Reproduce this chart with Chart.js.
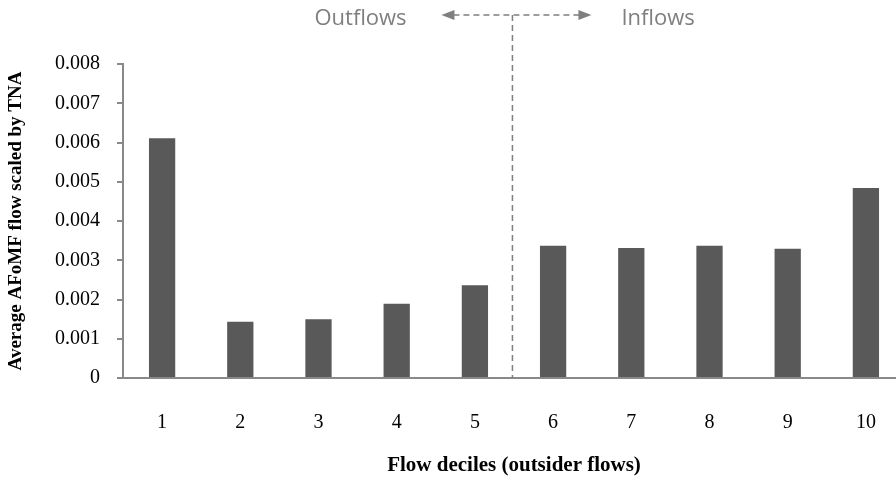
<!DOCTYPE html>
<html>
<head>
<meta charset="utf-8">
<script src="https://cdn.jsdelivr.net/npm/chart.js@4/dist/chart.umd.min.js"></script>
<style>
  html, body { margin: 0; padding: 0; background: #fff; overflow: hidden; }
  #chart { display: block; }
</style>
</head>
<body>
<!-- plot area runs a little past the right edge of the window, as in the original -->
<canvas id="chart" width="905" height="480"></canvas>
<script>
// --- data ---
const deciles = ['1', '2', '3', '4', '5', '6', '7', '8', '9', '10'];
const afomfFlow = [0.00611, 0.00143, 0.00150, 0.00189, 0.00236, 0.00337, 0.00331, 0.00337, 0.00329, 0.00484];
const yTicks = [0, 0.001, 0.002, 0.003, 0.004, 0.005, 0.006, 0.007, 0.008];
const sideLabels = ['Outflows', 'Inflows'];
const DIVIDER_AT = 4.48; // between decile 5 and 6, in category units

const SERIF = '"Liberation Serif", "Times New Roman", serif';
const AXIS_GREY = '#898989';
const NOTE_GREY = '#7f7f7f';

// dashed divider + double arrow with Outflows / Inflows
const flowDivider = {
    id: 'flowDivider',
    afterDraw(chart) {
        const { ctx, chartArea, scales } = chart;
        const x = scales.x.getPixelForValue(DIVIDER_AT);
        const arrowY = 15;
        const leftTip = x - 71, rightTip = x + 79;

        ctx.save();
        ctx.strokeStyle = NOTE_GREY;
        ctx.fillStyle = NOTE_GREY;
        ctx.lineWidth = 1.5;
        ctx.setLineDash([6, 4]);

        ctx.beginPath();
        ctx.moveTo(x, arrowY);
        ctx.lineTo(x, chartArea.bottom);
        ctx.stroke();

        ctx.beginPath();
        ctx.moveTo(leftTip + 12, arrowY);
        ctx.lineTo(rightTip - 12, arrowY);
        ctx.stroke();
        ctx.setLineDash([]);

        // arrow heads
        ctx.beginPath();
        ctx.moveTo(leftTip, arrowY);
        ctx.lineTo(leftTip + 13, arrowY - 5);
        ctx.lineTo(leftTip + 13, arrowY + 5);
        ctx.closePath();
        ctx.fill();
        ctx.beginPath();
        ctx.moveTo(rightTip, arrowY);
        ctx.lineTo(rightTip - 13, arrowY - 5);
        ctx.lineTo(rightTip - 13, arrowY + 5);
        ctx.closePath();
        ctx.fill();

        ctx.font = '22px "Open Sans", sans-serif';
        ctx.textBaseline = 'middle';
        ctx.textAlign = 'left';
        ctx.fillText(sideLabels[0], x - 198, 19);
        ctx.fillText(sideLabels[1], x + 109, 19);
        ctx.restore();
    }
};

new Chart(document.getElementById('chart'), {
    type: 'bar',
    data: {
        labels: deciles,
        datasets: [{
            data: afomfFlow,
            backgroundColor: '#595959',
            borderWidth: 0,
            categoryPercentage: 1,
            barPercentage: 0.336
        }]
    },
    options: {
        responsive: false,
        animation: false,
        layout: { padding: { top: 64, right: 0, bottom: 0, left: 0 } },
        plugins: {
            legend: { display: false },
            tooltip: { enabled: false }
        },
        scales: {
            x: {
                grid: { display: false, drawTicks: false },
                border: { display: true, color: AXIS_GREY, width: 2 },
                ticks: { color: '#000', font: { family: SERIF, size: 20 }, padding: 33 },
                title: {
                    display: true,
                    text: 'Flow deciles (outsider flows)',
                    color: '#000',
                    font: { family: SERIF, size: 21, weight: 'bold' },
                    padding: { top: 0, bottom: 2 }
                },
                afterFit(scale) {
                    scale.height = 102;
                    scale.paddingLeft = 0;
                    scale.paddingRight = 0;
                }
            },
            y: {
                min: 0,
                max: 0.008,
                afterBuildTicks(scale) { scale.ticks = yTicks.map(v => ({ value: v })); },
                grid: { drawOnChartArea: false, drawTicks: true, tickLength: 6, color: AXIS_GREY, lineWidth: 2 },
                border: { display: true, color: AXIS_GREY, width: 2 },
                ticks: {
                    color: '#000',
                    font: { family: SERIF, size: 20 },
                    padding: 17,
                    callback: v => v === 0 ? '0' : v.toFixed(3)
                },
                title: {
                    display: true,
                    text: 'Average AFoMF flow scaled by TNA',
                    color: '#000',
                    font: { family: SERIF, size: 19, weight: 'bold' },
                    padding: { top: 5, bottom: 0 }
                },
                afterFit(scale) { scale.width = 123; }
            }
        }
    },
    plugins: [flowDivider]
});
</script>
</body>
</html>
